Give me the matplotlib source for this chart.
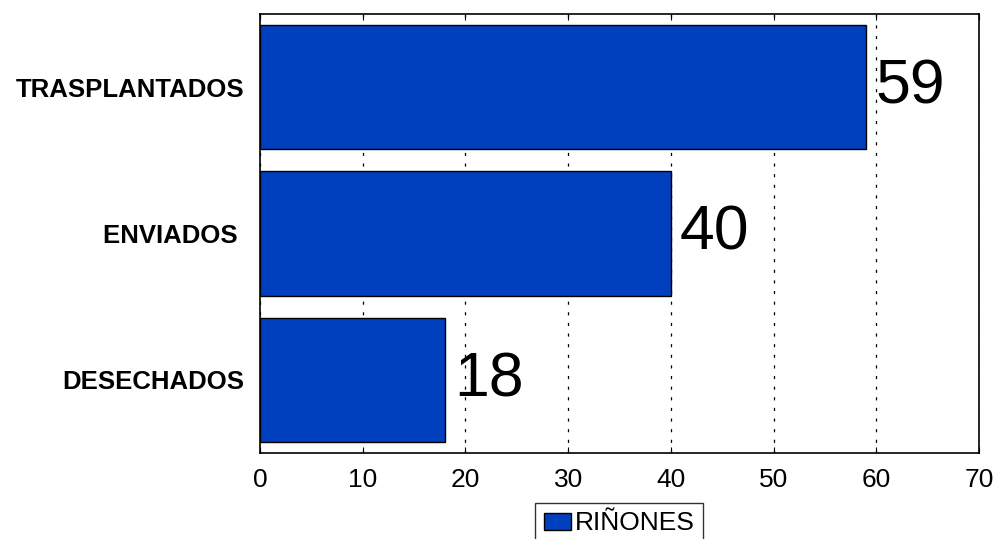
import matplotlib.pyplot as plt
import numpy as np

# Kidney data
categorias = ['DESECHADOS', 'ENVIADOS ', 'TRASPLANTADOS']
valores = [18, 40, 59]
serie = 'RIÑONES'
xticks = [0, 10, 20, 30, 40, 50, 60, 70]

plt.rcParams['font.family'] = ['Liberation Sans', 'DejaVu Sans']

fig = plt.figure(figsize=(9.97, 5.39), dpi=100)
ax = fig.add_axes([260 / 997, 86 / 539, 719 / 997, 439 / 539])

y = np.arange(len(categorias))
bars = ax.barh(y, valores, height=0.85, color='#0040BF', edgecolor='black',
               linewidth=1, label=serie, zorder=3)

for yi, v in zip(y, valores):
    ax.text(v + 0.9, yi, str(v), va='center', ha='left', fontsize=45, zorder=4)

ax.set_xlim(0, 70)
ax.set_ylim(-0.5, 2.5)
ax.set_xticks(xticks)
ax.set_yticks(y)
ax.set_yticklabels(categorias, fontsize=18.5, fontweight='bold')
ax.tick_params(axis='y', length=0, pad=11)
ax.tick_params(axis='x', direction='in', length=4, top=True, labelsize=19, pad=11)
ax.grid(axis='x', color='black', linestyle=(0, (2.5, 6)), linewidth=0.9, zorder=0)
for s in ax.spines.values():
    s.set_linewidth(1.2)

fig.legend(loc='upper center', bbox_to_anchor=(619 / 997, 1 - 503 / 539),
           fontsize=19, frameon=True, fancybox=False, edgecolor='black',
           handlelength=1.05, handleheight=0.6, handletextpad=0.12,
           borderpad=0.32, borderaxespad=0)

fig.savefig('out.png', dpi=100)
